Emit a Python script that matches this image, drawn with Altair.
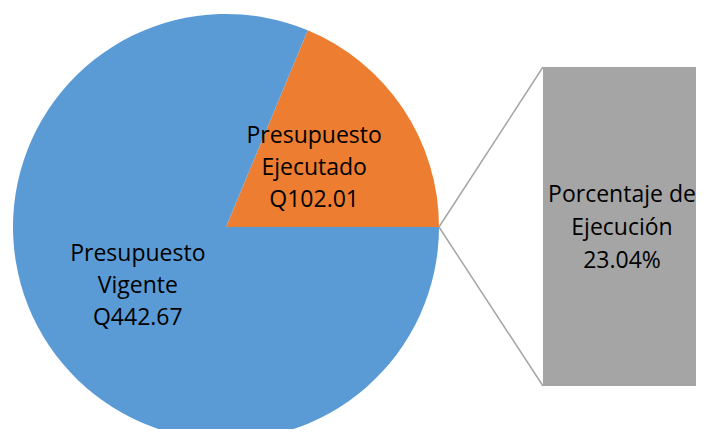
import math
import altair as alt
import pandas as pd

# data
categories = ["Presupuesto Ejecutado", "Presupuesto Vigente"]
label_lines = ["Presupuesto\nEjecutado\nQ102.01", "Presupuesto\nVigente\nQ442.67"]
values = [102.01, 442.67]
colors = ["#ED7D31", "#5B9BD5"]
bar_label = "Porcentaje de\nEjecución\n23.04%"
bar_value = [102.01]

total = sum(values)
offset = math.pi / 2 - 2 * math.pi * values[0] / total

pie_df = pd.DataFrame({"cat": categories, "value": values, "label": label_lines, "order": [0, 1]})
bar_df = pd.DataFrame({"cat": ["Porcentaje de Ejecución"], "value": bar_value, "base": [0], "label": [bar_label]})

CX, CY, R = 218, 219, 213
FONT = "Open Sans"
FS = 23

theta = alt.Theta("value:Q", stack=True, scale=alt.Scale(range=[offset, offset + 2 * math.pi]))
color = alt.Color("cat:N", scale=alt.Scale(domain=categories, range=colors), legend=None)

base = alt.Chart(pie_df)
pie = base.mark_arc(radius=R).encode(
    theta=theta, color=color, order=alt.Order("order:Q"),
    x=alt.value(CX), y=alt.value(CY),
)
pie_text = base.mark_text(radius=106, font=FONT, fontSize=FS, lineBreak="\n", lineHeight=32, dy=-32,
                          baseline="middle", align="center", color="#000000").encode(
    theta=theta, order=alt.Order("order:Q"), text="label:N",
    x=alt.value(CX), y=alt.value(CY),
)

bar = alt.Chart(bar_df).mark_rect(color="#A5A5A5").encode(
    y=alt.Y("base:Q", scale=alt.Scale(domain=[0, bar_value[0]], range=[378, 59]), axis=None),
    y2="value:Q",
    x=alt.value(535), x2=alt.value(740),
)
bar_text = alt.Chart(bar_df).mark_text(font=FONT, fontSize=FS, lineBreak="\n", lineHeight=33,
                                       baseline="middle", align="center", color="#000000").encode(
    text="label:N", x=alt.value(614), y=alt.value(187),
)
line_top = alt.Chart(bar_df).mark_rule(color="#A5A5A5", strokeWidth=1.5).encode(
    x=alt.value(CX + R), y=alt.value(CY), x2=alt.value(535), y2=alt.value(59))
line_bot = alt.Chart(bar_df).mark_rule(color="#A5A5A5", strokeWidth=1.5).encode(
    x=alt.value(CX + R), y=alt.value(CY), x2=alt.value(535), y2=alt.value(378))

chart = alt.layer(pie, pie_text, line_top, line_bot, bar, bar_text).properties(
    width=688, height=421, padding=0, autosize=alt.AutoSizeParams(type="none")
).configure_view(stroke=None)

chart.save("out.html", embed_options={"renderer": "svg", "actions": False})
